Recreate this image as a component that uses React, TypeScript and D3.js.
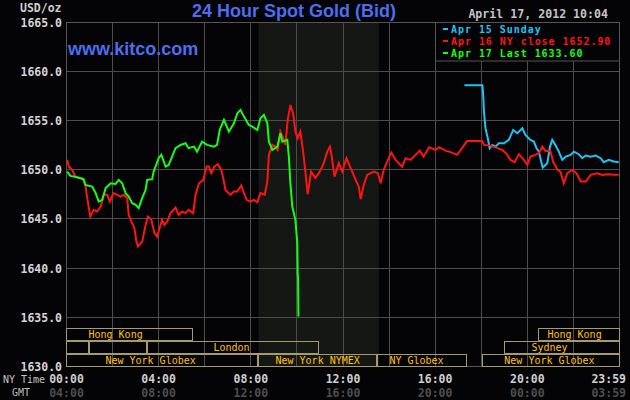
import React from 'react';
import * as d3 from 'd3';

const W = 630;
const H = 400;

// ---- axis values ----
const yTicks = [1630, 1635, 1640, 1645, 1650, 1655, 1660, 1665];
const tickMinutes = [0, 240, 480, 720, 960, 1200, 1439];
const nyTimeLabels = ['00:00', '04:00', '08:00', '12:00', '16:00', '20:00', '23:59'];
const gmtLabels = ['04:00', '08:00', '12:00', '16:00', '20:00', '00:00', '03:59'];

// ---- series: [minute of NY day, price] ----
const apr17: [number, number][] = [
  [2, 1649.8], [10, 1649.36], [28, 1649.23], [45, 1649.03], [49, 1648.45], [67, 1648.28], [76, 1647.61],
  [84, 1646.75], [93, 1646.93], [102, 1648.12], [115, 1648.62], [128, 1648.55], [136, 1648.96], [145, 1648.62],
  [154, 1647.61], [162, 1647.26], [171, 1646.59], [180, 1646.42], [188, 1646.09], [197, 1647.1], [206, 1647.94],
  [210, 1648.96], [223, 1649.03], [227, 1649.8], [240, 1651.16], [247, 1651.5], [258, 1650.31], [266, 1650.48],
  [275, 1651.32], [284, 1652.18], [297, 1652.51], [310, 1652.68], [318, 1652.18], [332, 1652.34], [340, 1651.83],
  [353, 1652.85], [366, 1652.51], [384, 1652.34], [392, 1652.51], [399, 1654.03], [410, 1655.05], [423, 1653.86],
  [436, 1654.71], [445, 1655.73], [453, 1656.07], [462, 1655.39], [475, 1654.54], [484, 1654.37], [497, 1654.03],
  [505, 1655.22], [514, 1655.56], [523, 1654.71], [527, 1652.85], [536, 1652.0], [549, 1652.34], [557, 1653.7],
  [562, 1652.85], [575, 1653.02], [579, 1651.32], [583, 1648.62], [588, 1646.25], [596, 1644.9], [601, 1642.53],
  [602, 1639.31], [603, 1639.14], [604, 1635.08],
];

const apr16: [number, number][] = [
  [2, 1650.99], [6, 1650.31], [15, 1649.97], [23, 1649.29], [32, 1649.13], [41, 1649.13], [49, 1648.45],
  [54, 1647.1], [62, 1645.23], [71, 1645.91], [80, 1645.74], [89, 1646.25], [97, 1647.44], [106, 1647.44],
  [113, 1646.75], [122, 1647.61], [132, 1647.44], [141, 1647.26], [149, 1647.44], [158, 1647.1], [162, 1645.4],
  [171, 1644.56], [177, 1644.05], [182, 1642.69], [186, 1642.19], [197, 1642.69], [206, 1644.39], [212, 1645.23],
  [221, 1644.9], [229, 1643.55], [236, 1643.2], [245, 1644.39], [249, 1644.9], [255, 1644.39], [262, 1644.72],
  [271, 1645.58], [284, 1646.15], [292, 1645.4], [301, 1645.74], [310, 1645.58], [318, 1645.91], [330, 1645.58],
  [336, 1647.44], [345, 1648.62], [356, 1648.96], [365, 1650.31], [371, 1650.31], [377, 1649.64], [385, 1650.31],
  [394, 1650.55], [403, 1649.97], [410, 1648.79], [414, 1647.94], [427, 1647.44], [436, 1647.77], [445, 1647.77],
  [455, 1648.38], [462, 1647.61], [469, 1646.93], [479, 1646.75], [488, 1646.93], [497, 1646.69], [505, 1647.61],
  [516, 1647.44], [523, 1648.79], [527, 1651.5], [536, 1652.51], [544, 1652.34], [550, 1652.0], [557, 1653.86],
  [566, 1653.02], [570, 1652.51], [576, 1655.05], [583, 1656.57], [590, 1655.73], [596, 1653.86], [602, 1653.19],
  [609, 1653.86], [616, 1651.9], [622, 1649.8], [628, 1647.5], [637, 1649.8], [648, 1649.16], [657, 1649.64],
  [666, 1650.31], [670, 1650.68], [679, 1651.83], [686, 1652.34], [690, 1651.5], [698, 1649.29], [709, 1650.65],
  [718, 1649.8], [729, 1651.16], [740, 1650.15], [753, 1648.96], [761, 1648.28], [766, 1647.0], [774, 1648.45],
  [783, 1649.47], [800, 1649.8], [811, 1649.64], [818, 1648.62], [826, 1649.97], [835, 1650.82], [846, 1651.73],
  [857, 1650.99], [874, 1650.31], [883, 1651.16], [896, 1650.99], [909, 1651.5], [920, 1651.93], [930, 1651.32],
  [944, 1652.28], [961, 1652.0], [970, 1652.28], [987, 1651.93], [1004, 1651.73], [1017, 1651.5], [1030, 1652.18],
  [1043, 1652.9], [1083, 1652.9], [1087, 1652.51], [1104, 1652.44], [1122, 1652.18], [1135, 1652.0], [1148, 1651.5],
  [1156, 1650.99], [1167, 1650.76], [1178, 1651.57], [1191, 1650.99], [1200, 1650.48], [1208, 1651.32],
  [1221, 1651.5], [1230, 1651.67], [1239, 1652.34], [1247, 1651.9], [1260, 1651.9], [1267, 1650.82],
  [1279, 1649.97], [1286, 1649.8], [1295, 1648.62], [1304, 1649.64], [1317, 1649.97], [1328, 1649.64],
  [1339, 1648.79], [1352, 1648.79], [1365, 1649.47], [1382, 1649.64], [1395, 1649.47], [1412, 1649.54],
  [1425, 1649.47], [1438, 1649.47],
];

const apr15: [number, number][] = [
  [1036, 1658.57], [1083, 1658.57], [1085, 1657.59], [1087, 1655.89], [1091, 1654.21], [1097, 1653.19],
  [1102, 1652.18], [1109, 1652.51], [1117, 1652.34], [1126, 1652.68], [1139, 1652.68], [1152, 1653.02],
  [1163, 1654.03], [1174, 1653.7], [1187, 1654.21], [1195, 1653.53], [1208, 1653.02], [1217, 1652.85],
  [1224, 1652.18], [1230, 1651.83], [1236, 1650.82], [1240, 1650.21], [1252, 1650.65], [1259, 1652.34],
  [1265, 1653.02], [1273, 1652.51], [1282, 1651.83], [1291, 1650.99], [1300, 1651.32], [1313, 1651.5],
  [1321, 1651.83], [1334, 1651.57], [1343, 1651.16], [1352, 1651.43], [1365, 1651.32], [1378, 1651.43],
  [1391, 1651.16], [1399, 1650.76], [1412, 1650.99], [1425, 1650.82], [1438, 1650.76],
];

const legendTexts = ['Apr 15 Sunday', 'Apr 16 NY close 1652.90', 'Apr 17 Last 1633.60'];
const legendColors = ['#1ec4f6', '#ff1414', '#14ff14'];

// ---- trading sessions (hours, NY time) ----
const sessionRow1 = [
  { start: 0, end: 5.5, label: 'Hong Kong', at: 2.13 },
  { start: 20.5, end: 24, label: 'Hong Kong', at: 22.05 },
];
const sessionRow2 = [
  { start: 0, end: 1, label: '', at: 0 },
  { start: 1, end: 3.5, label: '', at: 0 },
  { start: 3.5, end: 11, label: 'London', at: 7.16 },
  { start: 19, end: 24, label: 'Sydney', at: 20.96 },
];
const sessionRow3 = [
  { start: 0, end: 8.33, label: 'New York Globex', at: 3.65 },
  { start: 8.33, end: 13.5, label: 'New York NYMEX', at: 10.9 },
  { start: 13.5, end: 17.4, label: 'NY Globex', at: 15.19 },
  { start: 18.05, end: 24, label: 'New York Globex', at: 20.96 },
];
const nymexShade = [8.33, 13.56];

const MONO = '"DejaVu Sans Mono", monospace';
const SANS = '"Liberation Sans", Arial, sans-serif';

export default function App() {
  const x = d3.scaleLinear().domain([0, 1440]).range([66.5, 619.5]);
  const y = d3.scaleLinear().domain([1630, 1665]).range([366.5, 22]);
  const line = d3
    .line<[number, number]>()
    .x((d) => x(d[0]))
    .y((d) => y(d[1]));

  const px = (v: number) => Math.floor(v) + 0.5;
  const left = px(x(0));
  const right = px(x(1440));
  const top = px(y(1665));
  const bottom = px(y(1630));

  const rows = [sessionRow1, sessionRow2, sessionRow3];
  const rowTops = [328, 341, 354];
  const rowH = 13;
  const boxStroke = '#a49c6c';

  return (
    <svg
      width={W}
      height={H}
      style={{ position: 'absolute', left: 0, top: 0, background: '#040306' }}
    >
      <rect x={0} y={0} width={W} height={H} fill="#040306" />
      {/* NYMEX shading */}
      <rect
        x={x(nymexShade[0] * 60)}
        y={top}
        width={x(nymexShade[1] * 60) - x(nymexShade[0] * 60)}
        height={bottom - top}
        fill="#141714"
      />
      {/* grid */}
      {d3.range(0, 1441, 120).map((m) => (
        <line key={'v' + m} x1={px(x(m))} x2={px(x(m))} y1={top} y2={bottom} stroke="#4c4c4c" strokeWidth={1} />
      ))}
      {yTicks.map((t) => (
        <line key={'h' + t} x1={left} x2={right} y1={px(y(t))} y2={px(y(t))} stroke="#4c4c4c" strokeWidth={1} />
      ))}
      <rect x={left} y={top} width={right - left} height={bottom - top} fill="none" stroke="#555" strokeWidth={1} />

      {/* session boxes */}
      {rows.map((row, ri) =>
        row.map((s, si) => {
          const x0 = Math.floor(x(s.start * 60)) + 0.5;
          const x1 = s.end >= 24 ? right : Math.floor(x(s.end * 60)) - 0.5;
          const y0 = rowTops[ri] + 0.5;
          const y1 = ri === 2 ? bottom : rowTops[ri] + rowH - 0.5;
          return (
            <g key={'s' + ri + '-' + si}>
              <rect x={x0} y={y0} width={x1 - x0} height={y1 - y0} fill="none" stroke={boxStroke} strokeWidth={1} />
              {s.label && (
                <text
                  x={x(s.at * 60)}
                  y={rowTops[ri] + 10}
                  textAnchor="middle"
                  fontFamily={MONO}
                  fontSize={10}
                  fill="#ffc20e"
                >
                  {s.label}
                </text>
              )}
            </g>
          );
        })
      )}

      {/* series */}
      <g fill="none" strokeWidth={2} strokeLinejoin="miter">
        <path d={line(apr15) || ''} stroke={legendColors[0]} />
        <path d={line(apr16) || ''} stroke={legendColors[1]} />
        <path d={line(apr17) || ''} stroke={legendColors[2]} />
      </g>

      {/* legend */}
      <rect x={435.5} y={top} width={right - 435.5} height={61 - top} fill="#040306" stroke="#555" strokeWidth={1} />
      {legendTexts.map((t, i) => (
        <g key={'lg' + i}>
          <rect x={443} y={28 + i * 12} width={5} height={2} fill={legendColors[i]} />
          <text
            x={451}
            y={33 + i * 12}
            fontFamily={MONO}
            fontWeight="bold"
            fontSize={10}
            letterSpacing={0.95}
            fill={legendColors[i]}
          >
            {t}
          </text>
        </g>
      ))}

      {/* titles */}
      <text x={294} y={17} textAnchor="middle" fontFamily={SANS} fontWeight="bold" fontSize={18} fill="#4d6ef0">
        24 Hour Spot Gold (Bid)
      </text>
      <text x={68} y={55} fontFamily={SANS} fontWeight="bold" fontSize={18} fill="#4d6ef0">
        www.kitco.com
      </text>
      <text x={608} y={18} textAnchor="end" fontFamily={MONO} fontWeight="bold" fontSize={11.6} fill="#c4c4c4">
        April 17, 2012 10:04
      </text>
      <text x={20} y={12} fontFamily={MONO} fontWeight="bold" fontSize={11.5} fill="#cfcfcf">
        USD/oz
      </text>

      {/* y labels */}
      {yTicks.map((t) => (
        <text key={'yl' + t} x={62} y={y(t) + 4.5} textAnchor="end" fontFamily={MONO} fontWeight="bold" fontSize={11.5} fill="#d4d4d4">
          {t.toFixed(1)}
        </text>
      ))}

      {/* x labels */}
      <text x={3} y={383} fontFamily={MONO} fontSize={10} fill="#c4c4c4">NY Time</text>
      <text x={12} y={396} fontFamily={MONO} fontSize={10} fill="#bdbdbd">GMT</text>
      {tickMinutes.map((m, i) => {
        const last = i === tickMinutes.length - 1;
        return (
          <g key={'xl' + m}>
            <text
              x={last ? 626 : x(m)}
              y={383}
              textAnchor={last ? 'end' : 'middle'}
              fontFamily={MONO}
              fontWeight="bold"
              fontSize={11.5}
              fill="#cfcfcf"
            >
              {nyTimeLabels[i]}
            </text>
            <text
              x={last ? 626 : x(m)}
              y={397}
              textAnchor={last ? 'end' : 'middle'}
              fontFamily={MONO}
              fontWeight="bold"
              fontSize={11.5}
              fill="#4e4e4e"
            >
              {gmtLabels[i]}
            </text>
          </g>
        );
      })}
    </svg>
  );
}
